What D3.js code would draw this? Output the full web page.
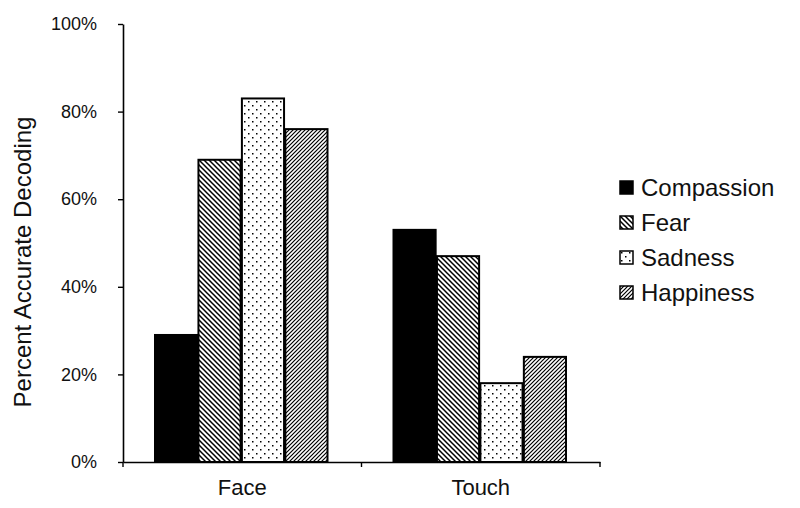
<!DOCTYPE html>
<html>
<head>
<meta charset="utf-8">
<script src="https://cdn.jsdelivr.net/npm/d3@7"></script>
<style>
  body { margin: 0; background: #fff; }
  svg { font-family: "Liberation Sans", Arial, sans-serif; }
</style>
</head>
<body>
<svg width="800" height="508"></svg>
<script>
const categories = ['Face', 'Touch'];
const emotions = ['Compassion', 'Fear', 'Sadness', 'Happiness'];
const compassion = [29, 53];
const fear = [69, 47];
const sadness = [83, 18];
const happiness = [76, 24];
const yTicks = [0, 20, 40, 60, 80, 100];

const seriesValues = [compassion, fear, sadness, happiness];
const patternFill = ['#000', 'url(#pFear)', 'url(#pSad)', 'url(#pHappy)'];

const svg = d3.select('svg');
const margin = { top: 24, left: 123, right: 200, bottom: 46 };
const width = 800, height = 508;
const innerWidth = 600 - margin.left;
const innerHeight = height - margin.top - margin.bottom;
const font = '"Liberation Sans", Arial, sans-serif';

// patterns
const defs = svg.append('defs');

const pFear = defs.append('pattern')
  .attr('id', 'pFear').attr('patternUnits', 'userSpaceOnUse')
  .attr('width', 5).attr('height', 5);
pFear.append('rect').attr('width', 5).attr('height', 5).attr('fill', '#fff');
pFear.append('path').attr('d', 'M-1,-1 L6,6 M-1,4 L1,6 M4,-1 L6,1')
  .attr('stroke', '#000').attr('stroke-width', 1.5);

const pSad = defs.append('pattern')
  .attr('id', 'pSad').attr('patternUnits', 'userSpaceOnUse')
  .attr('width', 8).attr('height', 8);
pSad.append('rect').attr('width', 8).attr('height', 8).attr('fill', '#fff');
pSad.append('rect').attr('x', 1).attr('y', 1).attr('width', 1.5).attr('height', 1.5).attr('fill', '#000');
pSad.append('rect').attr('x', 5).attr('y', 5).attr('width', 1.5).attr('height', 1.5).attr('fill', '#000');

const pHappy = defs.append('pattern')
  .attr('id', 'pHappy').attr('patternUnits', 'userSpaceOnUse')
  .attr('width', 4).attr('height', 4);
pHappy.append('rect').attr('width', 4).attr('height', 4).attr('fill', '#fff');
pHappy.append('path').attr('d', 'M-1,5 L5,-1 M-1,1 L1,-1 M3,5 L5,3')
  .attr('stroke', '#000').attr('stroke-width', 1.2);

const g = svg.append('g')
  .attr('transform', `translate(${margin.left},${margin.top})`);

const xScale = d3.scaleBand()
  .domain(categories)
  .range([0, innerWidth]);

const xInner = d3.scaleBand()
  .domain(emotions)
  .range([32, xScale.bandwidth() - 34])
  .paddingInner(0.03);

const yScale = d3.scaleLinear()
  .domain([0, 100])
  .range([innerHeight, 0]);

// bars
emotions.forEach((e, i) => {
  g.append('g').selectAll('rect')
    .data(seriesValues[i])
    .enter().append('rect')
      .attr('x', (d, j) => xScale(categories[j]) + xInner(e))
      .attr('y', d => yScale(d))
      .attr('width', xInner.bandwidth())
      .attr('height', d => yScale(0) - yScale(d))
      .attr('fill', patternFill[i])
      .attr('stroke', '#000')
      .attr('stroke-width', 2);
});

// y axis
const yAxisG = g.append('g')
  .call(d3.axisLeft(yScale).tickValues(yTicks).tickFormat(d => d + '%').tickSize(5).tickSizeOuter(0));
yAxisG.select('.domain').attr('stroke-width', 1.6);
yAxisG.selectAll('.tick line').attr('stroke-width', 1.4);
yAxisG.selectAll('.tick text')
  .attr('font-size', 18).attr('x', -26).attr('fill', '#111')
  .attr('font-family', font);

// x axis
const xAxisG = g.append('g')
  .attr('transform', `translate(0,${innerHeight})`)
  .call(d3.axisBottom(xScale).tickSize(0));
xAxisG.select('.domain').attr('stroke-width', 1.6);
xAxisG.selectAll('.tick text')
  .attr('font-size', 22).attr('y', 33).attr('dy', 0).attr('fill', '#111')
  .attr('font-family', font);

// small tick marks at band boundaries
const bounds = [0, xScale.bandwidth(), innerWidth];
xAxisG.selectAll('line.bound').data(bounds).enter().append('line')
  .attr('class', 'bound')
  .attr('x1', d => d).attr('x2', d => d)
  .attr('y1', 0).attr('y2', 5)
  .attr('stroke', '#000').attr('stroke-width', 1.4);

// y axis title
svg.append('text')
  .attr('transform', `translate(31,262) rotate(-90)`)
  .attr('text-anchor', 'middle')
  .attr('font-size', 24)
  .attr('fill', '#111')
  .text('Percent Accurate Decoding');

// legend
const legend = svg.append('g')
  .attr('transform', 'translate(620,181)');

const item = legend.selectAll('g').data(emotions).enter().append('g')
  .attr('transform', (d, i) => `translate(0,${i * 35})`);

item.append('rect')
  .attr('width', 13).attr('height', 13)
  .attr('fill', (d, i) => patternFill[i])
  .attr('stroke', '#000').attr('stroke-width', 1.5);

item.append('text')
  .attr('x', 21).attr('y', 15)
  .attr('font-size', 24)
  .attr('fill', '#111')
  .text(d => d);
</script>
</body>
</html>
